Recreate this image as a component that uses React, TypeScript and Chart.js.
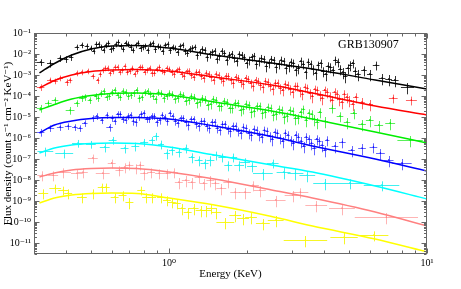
import { useEffect, useRef } from 'react';
import { Chart, registerables } from 'chart.js';

Chart.register(...registerables);

// [energy keV, flux, relative x half-width, relative y error]
type Pt = [number, number, number, number];

const xTickValues = [1, 10];
const xTickLabels = ['10⁰', '10¹'];
const yTickValues = [1e-1, 1e-2, 1e-3, 1e-4, 1e-5, 1e-6, 1e-7, 1e-8, 1e-9, 1e-10, 1e-11];
const yTickLabels = ['10⁻¹', '10⁻²', '10⁻³', '10⁻⁴', '10⁻⁵', '10⁻⁶', '10⁻⁷', '10⁻⁸', '10⁻⁹', '10⁻¹⁰', '10⁻¹¹'];

const modelEnergies = [0.315, 0.36, 0.42, 0.5, 0.6, 0.75, 1, 1.5, 2.5, 3.6, 6.3, 10];
const blackModel = [1.25e-3, 3.53e-3, 8.96e-3, 1.73e-2, 2.4e-2, 2.54e-2, 1.93e-2, 8.96e-3, 3.73e-3, 1.93e-3, 5.78e-4, 2.15e-4];
const redModel = [2.4e-4, 5.47e-4, 1.0e-3, 1.47e-3, 1.73e-3, 1.83e-3, 1.55e-3, 8.03e-4, 3.34e-4, 1.39e-4, 3.34e-5, 1.25e-5];
const greenModel = [2.15e-5, 3.94e-5, 7.2e-5, 1.06e-4, 1.32e-4, 1.39e-4, 1.12e-4, 5.18e-5, 1.93e-5, 8.03e-6, 1.93e-6, 5.78e-7];
const blueModel = [1.73e-6, 4.16e-6, 6.45e-6, 8.48e-6, 9.47e-6, 9.47e-6, 8.03e-6, 3.73e-6, 1.18e-6, 4.16e-7, 1.0e-7, 2.68e-8];
const cyanModel = [1.93e-7, 3.34e-7, 4.64e-7, 5.47e-7, 5.78e-7, 5.47e-7, 3.73e-7, 1.55e-7, 5.18e-8, 2.4e-8, 5.18e-9, 1.25e-9];
const pinkModel = [1.39e-8, 2.15e-8, 2.99e-8, 3.53e-8, 3.73e-8, 3.53e-8, 2.4e-8, 1.12e-8, 3.34e-9, 1.39e-9, 2.99e-10, 6.45e-11];
const yellowModel = [8.03e-10, 1.39e-9, 1.93e-9, 2.28e-9, 2.4e-9, 2.28e-9, 1.39e-9, 6.45e-10, 1.83e-10, 6.45e-11, 1.55e-11, 3.73e-12];

const blackPoints: Pt[] = [
  [0.318, 4.16e-3, 0.035, 0.35], [0.347, 3.73e-3, 0.03, 0.4], [0.379, 6.45e-3, 0.025, 0.35], [0.4, 5.78e-3, 0.02, 0.35],
  [0.418, 7.2e-3, 0.02, 0.35], [0.44, 2.15e-2, 0.02, 0.3], [0.46, 2.68e-2, 0.02, 0.3], [0.481, 2.4e-2, 0.02, 0.3],
  [0.5, 1.93e-2, 0.015, 0.3], [0.523, 2.99e-2, 0.015, 0.3], [0.546, 2.15e-2, 0.015, 0.3], [0.57, 2.68e-2, 0.015, 0.3],
  [0.596, 1.73e-2, 0.015, 0.35], [0.623, 2.99e-2, 0.015, 0.3], [0.651, 2.4e-2, 0.015, 0.3], [0.68, 3.34e-2, 0.015, 0.3],
  [0.711, 2.15e-2, 0.015, 0.35], [0.743, 2.68e-2, 0.015, 0.3], [0.776, 1.93e-2, 0.015, 0.35], [0.811, 2.4e-2, 0.015, 0.3],
  [0.848, 2.99e-2, 0.015, 0.3], [0.886, 1.73e-2, 0.015, 0.35], [0.926, 2.15e-2, 0.015, 0.3], [0.967, 2.68e-2, 0.015, 0.3],
  [1.011, 1.55e-2, 0.015, 0.35], [1.056, 1.93e-2, 0.015, 0.3], [1.104, 2.4e-2, 0.015, 0.3], [1.154, 1.39e-2, 0.015, 0.35],
  [1.205, 1.73e-2, 0.015, 0.35], [1.26, 2.15e-2, 0.015, 0.3], [1.316, 1.25e-2, 0.015, 0.35], [1.376, 1.55e-2, 0.015, 0.35],
  [1.438, 1.0e-2, 0.015, 0.4], [1.502, 1.39e-2, 0.015, 0.35], [1.57, 8.03e-3, 0.015, 0.4], [1.641, 1.12e-2, 0.015, 0.35],
  [1.714, 8.96e-3, 0.015, 0.4], [1.791, 6.45e-3, 0.015, 0.4], [1.872, 1.0e-2, 0.015, 0.35], [1.956, 7.2e-3, 0.015, 0.4],
  [2.044, 5.18e-3, 0.015, 0.45], [2.136, 8.03e-3, 0.015, 0.4], [2.232, 4.64e-3, 0.015, 0.45], [2.333, 5.78e-3, 0.015, 0.4],
  [2.438, 3.73e-3, 0.015, 0.45], [2.547, 5.18e-3, 0.015, 0.4], [2.662, 3.34e-3, 0.015, 0.45], [2.782, 4.64e-3, 0.015, 0.4],
  [2.907, 2.68e-3, 0.015, 0.5], [3.038, 3.73e-3, 0.015, 0.45], [3.174, 2.15e-3, 0.015, 0.5], [3.317, 3.34e-3, 0.015, 0.45],
  [3.467, 4.16e-3, 0.015, 0.45], [3.623, 1.93e-3, 0.015, 0.5], [3.786, 2.99e-3, 0.015, 0.45], [3.956, 1.55e-3, 0.02, 0.5],
  [4.134, 2.68e-3, 0.02, 0.5], [4.32, 1.73e-3, 0.02, 0.5], [4.514, 4.16e-3, 0.02, 0.45], [4.718, 1.39e-3, 0.02, 0.55],
  [4.93, 2.15e-3, 0.02, 0.5], [5.152, 3.73e-3, 0.02, 0.45], [5.4, 1.12e-3, 0.025, 0.55], [5.7, 1.73e-3, 0.025, 0.5],
  [6.0, 1.12e-3, 0.025, 0.55], [6.35, 2.99e-3, 0.03, 0.45], [6.7, 7.2e-4, 0.03, 0.55], [7.1, 6.45e-4, 0.03, 0.55],
  [7.5, 5.78e-4, 0.035, 0.55], [8.4, 2.68e-4, 0.06, 0.55],
  [0.511, 1.39e-2, 0.015, 0.3], [0.534, 2.99e-2, 0.015, 0.3], [0.558, 1.55e-2, 0.015, 0.3], [0.583, 3.34e-2, 0.015, 0.3],
  [0.609, 1.93e-2, 0.015, 0.3], [0.637, 3.73e-2, 0.015, 0.3], [0.665, 1.73e-2, 0.015, 0.3], [0.695, 2.99e-2, 0.015, 0.3],
  [0.727, 1.55e-2, 0.015, 0.3], [0.759, 3.34e-2, 0.015, 0.3], [0.793, 2.15e-2, 0.015, 0.3], [0.829, 1.55e-2, 0.015, 0.35],
  [0.867, 3.34e-2, 0.015, 0.3], [0.906, 2.4e-2, 0.015, 0.3], [0.946, 1.39e-2, 0.015, 0.35], [0.989, 2.99e-2, 0.015, 0.3],
  [1.033, 2.15e-2, 0.015, 0.3], [1.08, 1.25e-2, 0.015, 0.35], [1.129, 2.68e-2, 0.015, 0.3], [1.18, 1.12e-2, 0.015, 0.35],
  [1.232, 1.93e-2, 0.015, 0.35], [1.288, 8.96e-3, 0.015, 0.4], [1.346, 1.73e-2, 0.015, 0.35], [1.407, 7.2e-3, 0.015, 0.4],
  [1.47, 1.25e-2, 0.015, 0.35], [1.536, 5.78e-3, 0.015, 0.4], [1.605, 1.39e-2, 0.015, 0.35], [1.677, 5.18e-3, 0.015, 0.45],
  [1.752, 1.0e-2, 0.015, 0.4], [1.831, 4.64e-3, 0.015, 0.45], [1.914, 8.96e-3, 0.015, 0.4], [2.0, 3.73e-3, 0.015, 0.45],
  [2.09, 7.2e-3, 0.015, 0.4], [2.184, 3.34e-3, 0.015, 0.45], [2.282, 6.45e-3, 0.015, 0.4], [2.385, 2.68e-3, 0.015, 0.5],
  [2.492, 5.78e-3, 0.015, 0.4], [2.604, 2.4e-3, 0.015, 0.5], [2.721, 5.18e-3, 0.015, 0.45], [2.844, 2.15e-3, 0.015, 0.5],
  [2.972, 4.16e-3, 0.015, 0.45], [3.105, 1.73e-3, 0.015, 0.5], [3.245, 4.64e-3, 0.015, 0.45], [3.391, 1.39e-3, 0.015, 0.55],
  [3.544, 3.34e-3, 0.015, 0.45], [3.703, 1.25e-3, 0.015, 0.55], [3.87, 3.73e-3, 0.02, 0.45], [4.044, 1.12e-3, 0.02, 0.55],
  [4.226, 2.4e-3, 0.02, 0.5], [4.416, 5.18e-3, 0.02, 0.45], [4.615, 1.93e-3, 0.02, 0.5], [4.823, 8.96e-4, 0.02, 0.55],
  [5.04, 2.99e-3, 0.02, 0.5], [5.27, 1.55e-3, 0.02, 0.5],
];

const redPoints: Pt[] = [
  [0.318, 2.68e-4, 0.035, 0.35], [0.347, 5.78e-4, 0.03, 0.3], [0.362, 5.18e-4, 0.025, 0.3], [0.379, 7.2e-4, 0.025, 0.3],
  [0.403, 4.64e-4, 0.02, 0.35], [0.414, 5.78e-4, 0.02, 0.3], [0.44, 1.25e-3, 0.02, 0.3], [0.46, 1.39e-3, 0.02, 0.3],
  [0.485, 1.55e-3, 0.02, 0.3], [0.508, 8.96e-4, 0.02, 0.3], [0.53, 5.78e-4, 0.015, 0.35], [0.554, 1.73e-3, 0.015, 0.3],
  [0.579, 2.15e-3, 0.015, 0.3], [0.605, 1.55e-3, 0.015, 0.3], [0.632, 2.4e-3, 0.015, 0.3], [0.66, 1.73e-3, 0.015, 0.3],
  [0.69, 1.39e-3, 0.015, 0.3], [0.721, 2.15e-3, 0.015, 0.3], [0.753, 1.55e-3, 0.015, 0.3], [0.787, 2.4e-3, 0.015, 0.3],
  [0.823, 1.73e-3, 0.015, 0.3], [0.86, 1.25e-3, 0.015, 0.35], [0.898, 1.93e-3, 0.015, 0.3], [0.939, 1.55e-3, 0.015, 0.3],
  [0.981, 2.15e-3, 0.015, 0.3], [1.025, 1.39e-3, 0.015, 0.35], [1.071, 1.73e-3, 0.015, 0.3], [1.119, 1.12e-3, 0.015, 0.35],
  [1.17, 1.55e-3, 0.015, 0.3], [1.222, 1.0e-3, 0.015, 0.35], [1.277, 1.39e-3, 0.015, 0.35], [1.335, 8.96e-4, 0.015, 0.35],
  [1.395, 1.25e-3, 0.015, 0.35], [1.458, 8.03e-4, 0.015, 0.4], [1.523, 1.12e-3, 0.015, 0.35], [1.592, 6.45e-4, 0.015, 0.4],
  [1.663, 8.96e-4, 0.015, 0.4], [1.738, 5.78e-4, 0.015, 0.4], [1.816, 8.03e-4, 0.015, 0.4], [1.898, 4.64e-4, 0.015, 0.45],
  [1.983, 7.2e-4, 0.015, 0.4], [2.073, 4.16e-4, 0.015, 0.45], [2.166, 5.78e-4, 0.015, 0.4], [2.263, 3.34e-4, 0.015, 0.45],
  [2.365, 5.18e-4, 0.015, 0.4], [2.472, 2.99e-4, 0.015, 0.45], [2.583, 4.16e-4, 0.015, 0.45], [2.699, 2.4e-4, 0.015, 0.5],
  [2.821, 3.73e-4, 0.015, 0.45], [2.948, 2.15e-4, 0.015, 0.5], [3.08, 2.99e-4, 0.015, 0.45], [3.219, 1.73e-4, 0.015, 0.5],
  [3.364, 2.68e-4, 0.015, 0.45], [3.515, 1.39e-4, 0.015, 0.5], [3.673, 2.15e-4, 0.015, 0.45], [3.839, 1.12e-4, 0.02, 0.5],
  [4.012, 1.93e-4, 0.02, 0.45], [4.192, 1.0e-4, 0.02, 0.5], [4.381, 1.55e-4, 0.02, 0.5], [4.578, 7.2e-5, 0.02, 0.55],
  [4.784, 1.25e-4, 0.02, 0.5], [5.0, 6.45e-5, 0.025, 0.55], [5.3, 8.96e-5, 0.025, 0.5], [5.6, 5.18e-5, 0.025, 0.55],
  [6.0, 4.16e-5, 0.03, 0.55], [7.4, 8.03e-5, 0.04, 0.45], [8.7, 6.45e-5, 0.05, 0.45],
  [0.542, 1.12e-3, 0.015, 0.3], [0.566, 2.15e-3, 0.015, 0.3], [0.592, 1.25e-3, 0.015, 0.3], [0.618, 2.4e-3, 0.015, 0.3],
  [0.646, 1.39e-3, 0.015, 0.3], [0.675, 2.68e-3, 0.015, 0.3], [0.705, 1.55e-3, 0.015, 0.3], [0.737, 1.12e-3, 0.015, 0.3],
  [0.77, 2.4e-3, 0.015, 0.3], [0.805, 1.39e-3, 0.015, 0.3], [0.841, 2.15e-3, 0.015, 0.3], [0.879, 1.25e-3, 0.015, 0.3],
  [0.918, 2.4e-3, 0.015, 0.3], [0.96, 1.39e-3, 0.015, 0.3], [1.003, 1.93e-3, 0.015, 0.3], [1.048, 1.12e-3, 0.015, 0.35],
  [1.095, 1.93e-3, 0.015, 0.3], [1.144, 8.96e-4, 0.015, 0.35], [1.196, 1.55e-3, 0.015, 0.35], [1.249, 8.03e-4, 0.015, 0.35],
  [1.306, 1.39e-3, 0.015, 0.35], [1.364, 7.2e-4, 0.015, 0.4], [1.426, 1.12e-3, 0.015, 0.35], [1.49, 5.78e-4, 0.015, 0.4],
  [1.557, 1.0e-3, 0.015, 0.35], [1.627, 5.18e-4, 0.015, 0.45], [1.7, 8.96e-4, 0.015, 0.4], [1.777, 4.16e-4, 0.015, 0.45],
  [1.857, 7.2e-4, 0.015, 0.4], [1.94, 3.73e-4, 0.015, 0.45], [2.027, 6.45e-4, 0.015, 0.4], [2.119, 2.99e-4, 0.015, 0.45],
  [2.214, 5.18e-4, 0.015, 0.4], [2.314, 2.68e-4, 0.015, 0.5], [2.418, 4.64e-4, 0.015, 0.45], [2.527, 2.15e-4, 0.015, 0.5],
  [2.64, 4.16e-4, 0.015, 0.45], [2.759, 1.93e-4, 0.015, 0.5], [2.884, 3.34e-4, 0.015, 0.45], [3.013, 1.55e-4, 0.015, 0.5],
  [3.149, 2.99e-4, 0.015, 0.45], [3.291, 1.25e-4, 0.015, 0.5], [3.439, 2.4e-4, 0.015, 0.45], [3.594, 1.0e-4, 0.015, 0.55],
  [3.755, 1.93e-4, 0.02, 0.45], [3.924, 8.03e-5, 0.02, 0.55], [4.101, 1.55e-4, 0.02, 0.5], [4.286, 6.45e-5, 0.02, 0.55],
  [4.479, 1.25e-4, 0.02, 0.5], [4.68, 5.18e-5, 0.02, 0.55], [4.89, 8.96e-5, 0.02, 0.5], [5.15, 4.16e-5, 0.02, 0.55],
];

const greenPoints: Pt[] = [
  [0.318, 2.68e-5, 0.035, 0.4], [0.341, 4.64e-5, 0.03, 0.35], [0.362, 6.45e-5, 0.03, 0.35], [0.414, 2.15e-5, 0.04, 0.4],
  [0.44, 4.64e-5, 0.025, 0.35], [0.46, 8.03e-5, 0.025, 0.35], [0.472, 8.96e-5, 0.02, 0.35], [0.494, 6.45e-5, 0.02, 0.35],
  [0.52, 1.0e-4, 0.016, 0.35], [0.546, 1.39e-4, 0.016, 0.35], [0.573, 8.96e-5, 0.016, 0.35], [0.602, 1.55e-4, 0.016, 0.35],
  [0.632, 1.12e-4, 0.016, 0.35], [0.664, 1.73e-4, 0.016, 0.35], [0.697, 1.0e-4, 0.016, 0.35], [0.732, 1.39e-4, 0.016, 0.35],
  [0.768, 8.03e-5, 0.016, 0.4], [0.807, 1.55e-4, 0.016, 0.35], [0.847, 1.25e-4, 0.016, 0.35], [0.889, 7.2e-5, 0.016, 0.4],
  [0.934, 1.39e-4, 0.016, 0.35], [0.98, 1.0e-4, 0.016, 0.35], [1.029, 1.25e-4, 0.016, 0.35], [1.081, 8.03e-5, 0.016, 0.4],
  [1.135, 1.12e-4, 0.016, 0.35], [1.192, 6.45e-5, 0.016, 0.4], [1.251, 8.96e-5, 0.016, 0.4], [1.314, 5.18e-5, 0.016, 0.4],
  [1.38, 7.2e-5, 0.016, 0.4], [1.449, 4.16e-5, 0.016, 0.45], [1.521, 6.45e-5, 0.016, 0.4], [1.597, 3.34e-5, 0.016, 0.45],
  [1.677, 5.18e-5, 0.016, 0.4], [1.761, 2.68e-5, 0.016, 0.45], [1.849, 4.64e-5, 0.016, 0.4], [1.941, 2.4e-5, 0.016, 0.45],
  [2.038, 3.73e-5, 0.016, 0.45], [2.14, 1.93e-5, 0.016, 0.5], [2.247, 3.34e-5, 0.016, 0.45], [2.36, 1.73e-5, 0.016, 0.5],
  [2.478, 2.68e-5, 0.016, 0.45], [2.602, 1.39e-5, 0.016, 0.5], [2.732, 2.15e-5, 0.016, 0.45], [2.868, 1.12e-5, 0.016, 0.5],
  [3.012, 1.93e-5, 0.016, 0.45], [3.162, 8.96e-6, 0.016, 0.5], [3.32, 2.4e-5, 0.016, 0.45], [3.486, 1.55e-5, 0.016, 0.5],
  [3.66, 8.03e-6, 0.016, 0.55], [3.843, 1.73e-5, 0.02, 0.5], [4.035, 6.45e-6, 0.025, 0.55], [4.3, 2.68e-5, 0.03, 0.45],
  [4.6, 1.12e-5, 0.03, 0.5], [4.9, 5.78e-6, 0.03, 0.55], [5.2, 1.55e-5, 0.03, 0.5], [5.6, 4.64e-6, 0.035, 0.55],
  [6.0, 7.2e-6, 0.035, 0.55], [6.5, 4.16e-6, 0.04, 0.55], [7.2, 5.18e-6, 0.045, 0.55], [8.6, 8.03e-7, 0.12, 0.55],
  [0.533, 8.03e-5, 0.016, 0.35], [0.56, 1.73e-4, 0.016, 0.35], [0.587, 1.0e-4, 0.016, 0.35], [0.617, 1.93e-4, 0.016, 0.35],
  [0.648, 8.96e-5, 0.016, 0.35], [0.68, 1.55e-4, 0.016, 0.35], [0.714, 1.12e-4, 0.016, 0.35], [0.75, 1.93e-4, 0.016, 0.35],
  [0.787, 8.96e-5, 0.016, 0.35], [0.827, 1.73e-4, 0.016, 0.35], [0.868, 1.0e-4, 0.016, 0.35], [0.911, 1.55e-4, 0.016, 0.35],
  [0.957, 8.03e-5, 0.016, 0.4], [1.004, 1.39e-4, 0.016, 0.35], [1.055, 7.2e-5, 0.016, 0.4], [1.108, 1.25e-4, 0.016, 0.35],
  [1.163, 5.78e-5, 0.016, 0.4], [1.221, 1.0e-4, 0.016, 0.35], [1.282, 4.64e-5, 0.016, 0.45], [1.346, 8.03e-5, 0.016, 0.4],
  [1.414, 3.73e-5, 0.016, 0.45], [1.484, 7.2e-5, 0.016, 0.4], [1.559, 3.34e-5, 0.016, 0.45], [1.636, 5.78e-5, 0.016, 0.4],
  [1.718, 2.68e-5, 0.016, 0.45], [1.804, 4.64e-5, 0.016, 0.45], [1.894, 2.15e-5, 0.016, 0.5], [1.989, 4.16e-5, 0.016, 0.45],
  [2.088, 1.73e-5, 0.016, 0.5], [2.193, 3.34e-5, 0.016, 0.45], [2.303, 1.55e-5, 0.016, 0.5], [2.418, 2.99e-5, 0.016, 0.45],
  [2.539, 1.25e-5, 0.016, 0.5], [2.666, 2.4e-5, 0.016, 0.45], [2.799, 1.0e-5, 0.016, 0.55], [2.939, 2.15e-5, 0.016, 0.45],
  [3.086, 8.96e-6, 0.016, 0.55], [3.24, 1.73e-5, 0.016, 0.5], [3.402, 7.2e-6, 0.016, 0.55], [3.572, 1.39e-5, 0.016, 0.5],
  [3.75, 5.78e-6, 0.02, 0.55],
];

const bluePoints: Pt[] = [
  [0.318, 1.93e-6, 0.035, 0.4], [0.347, 2.99e-6, 0.035, 0.35], [0.379, 3.34e-6, 0.03, 0.35], [0.407, 3.73e-6, 0.03, 0.35],
  [0.432, 3.34e-6, 0.025, 0.35], [0.452, 2.99e-6, 0.025, 0.35], [0.472, 5.18e-6, 0.025, 0.35], [0.507, 8.96e-6, 0.02, 0.35],
  [0.525, 1.12e-5, 0.02, 0.35], [0.55, 7.2e-6, 0.016, 0.35], [0.576, 1.25e-5, 0.016, 0.35], [0.589, 3.34e-6, 0.03, 0.4],
  [0.604, 8.96e-6, 0.016, 0.35], [0.633, 1.39e-5, 0.016, 0.35], [0.663, 8.03e-6, 0.016, 0.35], [0.695, 1.12e-5, 0.016, 0.35],
  [0.728, 6.45e-6, 0.016, 0.4], [0.763, 1.0e-5, 0.016, 0.35], [0.8, 1.55e-5, 0.016, 0.35], [0.838, 8.03e-6, 0.016, 0.35],
  [0.878, 1.12e-5, 0.016, 0.35], [0.92, 7.2e-6, 0.016, 0.4], [0.964, 1.0e-5, 0.016, 0.35], [1.01, 1.55e-5, 0.016, 0.35],
  [1.058, 6.45e-6, 0.016, 0.4], [1.109, 8.96e-6, 0.016, 0.35], [1.162, 5.78e-6, 0.016, 0.4], [1.218, 8.03e-6, 0.016, 0.35],
  [1.276, 4.64e-6, 0.016, 0.4], [1.337, 6.45e-6, 0.016, 0.4], [1.401, 3.73e-6, 0.016, 0.45], [1.468, 5.78e-6, 0.016, 0.4],
  [1.538, 2.99e-6, 0.016, 0.45], [1.612, 4.64e-6, 0.016, 0.4], [1.689, 2.68e-6, 0.016, 0.45], [1.77, 3.73e-6, 0.016, 0.45],
  [1.855, 2.15e-6, 0.016, 0.45], [1.943, 3.34e-6, 0.016, 0.45], [2.036, 1.73e-6, 0.016, 0.5], [2.134, 2.68e-6, 0.016, 0.45],
  [2.236, 1.39e-6, 0.016, 0.5], [2.343, 2.4e-6, 0.016, 0.45], [2.455, 1.25e-6, 0.016, 0.5], [2.572, 1.93e-6, 0.016, 0.45],
  [2.695, 1.0e-6, 0.016, 0.5], [2.824, 1.73e-6, 0.016, 0.45], [2.96, 8.03e-7, 0.016, 0.5], [3.101, 1.39e-6, 0.016, 0.5],
  [3.25, 7.2e-7, 0.02, 0.55], [3.405, 1.12e-6, 0.02, 0.5], [3.568, 5.78e-7, 0.02, 0.55], [3.739, 8.96e-7, 0.02, 0.5],
  [3.918, 4.64e-7, 0.02, 0.55], [4.105, 8.03e-7, 0.02, 0.5], [4.4, 4.16e-7, 0.03, 0.55], [4.7, 6.45e-7, 0.03, 0.5],
  [5.1, 2.68e-7, 0.03, 0.55], [5.6, 3.34e-7, 0.035, 0.55], [6.2, 3.73e-7, 0.035, 0.5], [6.6, 1.93e-7, 0.04, 0.55],
  [7.1, 8.96e-8, 0.045, 0.55], [8.0, 6.45e-8, 0.09, 0.55],
  [0.618, 6.45e-6, 0.016, 0.35], [0.648, 1.39e-5, 0.016, 0.35], [0.679, 7.2e-6, 0.016, 0.35], [0.711, 1.25e-5, 0.016, 0.35],
  [0.745, 5.78e-6, 0.016, 0.4], [0.781, 1.39e-5, 0.016, 0.35], [0.819, 8.03e-6, 0.016, 0.35], [0.858, 1.12e-5, 0.016, 0.35],
  [0.899, 5.78e-6, 0.016, 0.4], [0.942, 1.25e-5, 0.016, 0.35], [0.987, 6.45e-6, 0.016, 0.4], [1.034, 1.12e-5, 0.016, 0.35],
  [1.083, 5.18e-6, 0.016, 0.4], [1.135, 8.96e-6, 0.016, 0.35], [1.19, 4.16e-6, 0.016, 0.45], [1.247, 8.03e-6, 0.016, 0.35],
  [1.306, 3.73e-6, 0.016, 0.45], [1.369, 6.45e-6, 0.016, 0.4], [1.434, 2.99e-6, 0.016, 0.45], [1.503, 5.78e-6, 0.016, 0.4],
  [1.575, 2.4e-6, 0.016, 0.45], [1.65, 4.64e-6, 0.016, 0.4], [1.729, 2.15e-6, 0.016, 0.5], [1.812, 3.73e-6, 0.016, 0.45],
  [1.899, 1.73e-6, 0.016, 0.5], [1.989, 2.99e-6, 0.016, 0.45], [2.085, 1.39e-6, 0.016, 0.5], [2.185, 2.4e-6, 0.016, 0.45],
  [2.289, 1.12e-6, 0.016, 0.5], [2.399, 2.15e-6, 0.016, 0.45], [2.513, 8.96e-7, 0.016, 0.55], [2.634, 1.73e-6, 0.016, 0.45],
  [2.759, 7.2e-7, 0.016, 0.55], [2.892, 1.39e-6, 0.016, 0.5], [3.03, 5.78e-7, 0.016, 0.55], [3.175, 1.12e-6, 0.016, 0.5],
  [3.327, 4.16e-7, 0.02, 0.55], [3.486, 8.96e-7, 0.02, 0.5], [3.653, 3.34e-7, 0.02, 0.55], [3.828, 7.2e-7, 0.02, 0.5],
  [4.01, 2.68e-7, 0.02, 0.55],
];

const cyanPoints: Pt[] = [
  [0.332, 2.4e-7, 0.073, 0.45], [0.393, 1.93e-7, 0.083, 0.45], [0.444, 5.78e-7, 0.054, 0.4], [0.498, 5.18e-7, 0.045, 0.4],
  [0.564, 3.73e-7, 0.045, 0.45], [0.605, 8.03e-7, 0.036, 0.4], [0.673, 3.34e-7, 0.036, 0.45], [0.741, 4.16e-7, 0.036, 0.45],
  [0.802, 6.45e-7, 0.036, 0.4], [0.861, 8.03e-7, 0.027, 0.4], [0.892, 1.25e-6, 0.027, 0.4], [0.932, 5.18e-7, 0.027, 0.45],
  [0.982, 1.93e-7, 0.027, 0.5], [1.027, 2.68e-7, 0.027, 0.45], [1.092, 2.15e-7, 0.027, 0.45], [1.162, 3.34e-7, 0.027, 0.45],
  [1.225, 1.25e-7, 0.027, 0.5], [1.303, 8.96e-8, 0.036, 0.5], [1.374, 6.45e-8, 0.036, 0.5], [1.448, 8.96e-8, 0.036, 0.5],
  [1.527, 1.55e-7, 0.036, 0.45], [1.61, 1.25e-7, 0.036, 0.45], [1.698, 5.18e-8, 0.036, 0.5], [1.775, 1.25e-7, 0.036, 0.45],
  [1.871, 5.18e-8, 0.045, 0.5], [1.972, 7.2e-8, 0.045, 0.5], [2.099, 4.64e-8, 0.045, 0.5], [2.312, 2.15e-8, 0.092, 0.55],
  [2.524, 6.45e-8, 0.054, 0.45], [2.781, 2.4e-8, 0.064, 0.55], [3.093, 2.15e-8, 0.073, 0.55], [3.437, 1.73e-8, 0.073, 0.55],
  [4.029, 7.2e-9, 0.112, 0.55], [5.023, 7.2e-9, 0.122, 0.5], [6.665, 5.78e-9, 0.172, 0.5],
];

const pinkPoints: Pt[] = [
  [0.323, 1.73e-8, 0.045, 0.5], [0.356, 1.73e-8, 0.045, 0.5], [0.389, 2.4e-8, 0.073, 0.5], [0.44, 2.15e-8, 0.054, 0.5],
  [0.464, 2.4e-8, 0.045, 0.5], [0.507, 1.12e-7, 0.045, 0.45], [0.554, 2.15e-8, 0.064, 0.5], [0.6, 6.45e-8, 0.036, 0.45],
  [0.643, 2.99e-8, 0.036, 0.5], [0.673, 4.16e-8, 0.036, 0.5], [0.703, 5.18e-8, 0.036, 0.45], [0.748, 3.73e-8, 0.036, 0.5],
  [0.774, 5.18e-8, 0.036, 0.45], [0.802, 2.15e-8, 0.036, 0.55], [0.853, 2.4e-8, 0.036, 0.5], [0.916, 2.15e-8, 0.036, 0.5],
  [0.982, 2.15e-8, 0.036, 0.5], [1.045, 2.4e-8, 0.036, 0.5], [1.092, 8.03e-9, 0.036, 0.55], [1.162, 1.0e-8, 0.036, 0.55],
  [1.225, 8.03e-9, 0.036, 0.55], [1.303, 1.39e-8, 0.036, 0.5], [1.362, 7.2e-9, 0.036, 0.55], [1.448, 1.0e-8, 0.036, 0.55],
  [1.514, 7.2e-9, 0.036, 0.55], [1.596, 4.16e-9, 0.045, 0.55], [1.698, 8.03e-9, 0.045, 0.5], [1.806, 2.68e-9, 0.045, 0.55],
  [1.972, 2.68e-9, 0.054, 0.55], [2.117, 5.78e-9, 0.054, 0.5], [2.252, 3.34e-9, 0.054, 0.55], [2.593, 1.12e-9, 0.092, 0.55],
  [3.013, 1.93e-9, 0.073, 0.55], [3.233, 2.68e-9, 0.073, 0.5], [3.722, 6.45e-10, 0.102, 0.55], [4.683, 4.64e-10, 0.122, 0.55],
  [6.96, 1.73e-10, 0.326, 0.55],
];

const yellowPoints: Pt[] = [
  [0.326, 2.4e-9, 0.045, 0.5], [0.3625, 4.16e-9, 0.054, 0.45], [0.389, 3.34e-9, 0.045, 0.45], [0.407, 2.4e-9, 0.036, 0.5],
  [0.46, 1.55e-9, 0.045, 0.5], [0.507, 2.4e-9, 0.045, 0.5], [0.549, 4.64e-9, 0.036, 0.45], [0.569, 4.64e-9, 0.036, 0.45],
  [0.616, 1.55e-9, 0.036, 0.5], [0.661, 1.93e-9, 0.036, 0.5], [0.703, 8.96e-10, 0.036, 0.55], [0.781, 3.34e-9, 0.036, 0.45],
  [0.816, 1.55e-9, 0.036, 0.5], [0.861, 1.55e-9, 0.036, 0.5], [0.932, 1.55e-9, 0.036, 0.5], [0.982, 1.12e-9, 0.036, 0.5],
  [1.027, 8.96e-10, 0.036, 0.5], [1.073, 8.03e-10, 0.036, 0.5], [1.121, 4.64e-10, 0.036, 0.55], [1.182, 2.99e-10, 0.036, 0.55],
  [1.247, 4.64e-10, 0.045, 0.55], [1.326, 3.73e-10, 0.045, 0.55], [1.398, 3.73e-10, 0.045, 0.55], [1.461, 4.64e-10, 0.045, 0.5],
  [1.527, 2.99e-10, 0.045, 0.55], [1.654, 1.0e-10, 0.083, 0.55], [1.806, 2.15e-10, 0.054, 0.55], [1.938, 1.55e-10, 0.054, 0.55],
  [2.08, 1.73e-10, 0.054, 0.55], [2.312, 8.96e-11, 0.064, 0.55], [2.593, 1.25e-10, 0.073, 0.55], [3.38, 1.39e-11, 0.214, 0.55],
  [4.77, 1.93e-11, 0.13, 0.55], [6.21, 2.4e-11, 0.141, 0.5],
];

const seriesList = [
  { points: blackPoints, model: blackModel, line: '#000000', bar: 'rgba(0,0,0,0.8)' },
  { points: redPoints, model: redModel, line: '#ff0000', bar: 'rgba(255,0,0,0.6)' },
  { points: greenPoints, model: greenModel, line: '#00ee00', bar: 'rgba(0,230,0,0.65)' },
  { points: bluePoints, model: blueModel, line: '#0000ff', bar: 'rgba(0,0,255,0.6)' },
  { points: cyanPoints, model: cyanModel, line: '#00ffff', bar: 'rgba(0,235,235,0.75)' },
  { points: pinkPoints, model: pinkModel, line: '#ff8080', bar: 'rgba(255,140,140,0.65)' },
  { points: yellowPoints, model: yellowModel, line: '#ffff00', bar: 'rgba(245,245,0,0.85)' },
];

const SERIF = '"Liberation Serif", "DejaVu Serif", serif';

const errorBarPlugin = {
  id: 'errorBars',
  beforeDatasetsDraw(chart: any) {
    const { ctx, chartArea: a, scales } = chart;
    const xs = scales.x;
    const ys = scales.y;
    ctx.save();
    ctx.beginPath();
    ctx.rect(a.left, a.top, a.right - a.left, a.bottom - a.top);
    ctx.clip();
    ctx.lineWidth = 1;
    for (const s of seriesList) {
      ctx.strokeStyle = s.bar;
      ctx.beginPath();
      for (const [e, f, ex, ey] of s.points) {
        const px = Math.round(xs.getPixelForValue(e)) + 0.5;
        const py = Math.round(ys.getPixelForValue(f)) + 0.5;
        ctx.moveTo(xs.getPixelForValue(e / (1 + ex)), py);
        ctx.lineTo(xs.getPixelForValue(e * (1 + ex)), py);
        ctx.moveTo(px, ys.getPixelForValue(f * (1 + ey)));
        ctx.lineTo(px, ys.getPixelForValue(f * (1 - ey)));
      }
      ctx.stroke();
    }
    ctx.restore();
  },
};

const framePlugin = {
  id: 'frame',
  afterDraw(chart: any) {
    const { ctx, chartArea: a, scales } = chart;
    const xs = scales.x;
    const ys = scales.y;
    const L = Math.round(a.left) + 0.5;
    const R = Math.round(a.right) - 0.5;
    const T = Math.round(a.top) + 0.5;
    const B = Math.round(a.bottom) - 0.5;
    ctx.save();
    ctx.strokeStyle = '#666666';
    ctx.lineWidth = 1;
    ctx.strokeRect(L, T, R - L, B - T);
    ctx.beginPath();
    for (let d = -1; d <= 1; d++) {
      for (let m = 1; m <= 9; m++) {
        const v = m * Math.pow(10, d);
        if (v < xs.min || v > xs.max) continue;
        const px = Math.round(xs.getPixelForValue(v)) + 0.5;
        const len = m === 1 ? 5 : 3;
        ctx.moveTo(px, B);
        ctx.lineTo(px, B - len);
        ctx.moveTo(px, T);
        ctx.lineTo(px, T + len);
      }
    }
    for (let d = -12; d <= -1; d++) {
      for (let m = 1; m <= 9; m++) {
        const v = m * Math.pow(10, d);
        if (v < ys.min || v > ys.max * 1.0001) continue;
        const py = Math.round(ys.getPixelForValue(v)) + 0.5;
        const len = m === 1 ? 5 : 2.5;
        ctx.moveTo(L, py);
        ctx.lineTo(L + len, py);
        ctx.moveTo(R, py);
        ctx.lineTo(R - len, py);
      }
    }
    ctx.stroke();
    ctx.fillStyle = '#000000';
    ctx.font = `12px ${SERIF}`;
    ctx.textBaseline = 'middle';
    ctx.textAlign = 'left';
    ctx.fillText('GRB130907', a.right - 89, a.top + 12);
    ctx.restore();
  },
};

export default function App() {
  const canvasRef = useRef<HTMLCanvasElement | null>(null);

  useEffect(() => {
    const canvas = canvasRef.current;
    if (!canvas) return;
    const datasets: any[] = [];
    seriesList.forEach((s) => {
      datasets.push({
        type: 'line',
        data: modelEnergies.map((e, i) => ({ x: e, y: s.model[i] })),
        borderColor: s.line,
        borderWidth: 1.5,
        pointRadius: 0,
        cubicInterpolationMode: 'monotone',
        fill: false,
        order: 1,
      });
      datasets.push({
        type: 'scatter',
        data: s.points.map((p) => ({ x: p[0], y: p[1] })),
        backgroundColor: s.line,
        borderWidth: 0,
        pointRadius: 0.9,
        pointStyle: 'rect',
        order: 2,
      });
    });

    const chart = new Chart(canvas, {
      type: 'scatter',
      data: { datasets },
      plugins: [errorBarPlugin, framePlugin],
      options: {
        responsive: false,
        animation: false,
        events: [],
        layout: { padding: { left: 0, top: 33, right: 34, bottom: 0 } },
        plugins: { legend: { display: false }, tooltip: { enabled: false } },
        scales: {
          x: {
            type: 'logarithmic',
            min: 0.315,
            max: 10,
            grid: { display: false, drawTicks: false },
            border: { display: false },
            afterBuildTicks: (scale: any) => {
              scale.ticks = xTickValues.map((v) => ({ value: v }));
            },
            afterFit: (scale: any) => {
              scale.height = 35;
            },
            ticks: {
              autoSkip: false,
              maxRotation: 0,
              padding: 3,
              color: '#000000',
              font: { family: SERIF, size: 10 },
              callback: (_v: any, i: number) => xTickLabels[i],
            },
            title: {
              display: true,
              text: 'Energy (KeV)',
              color: '#000000',
              font: { family: SERIF, size: 11 },
              padding: { top: 0, bottom: 8 },
            },
          },
          y: {
            type: 'logarithmic',
            min: 3e-12,
            max: 1e-1,
            grid: { display: false, drawTicks: false },
            border: { display: false },
            afterBuildTicks: (scale: any) => {
              scale.ticks = yTickValues.map((v) => ({ value: v }));
            },
            afterFit: (scale: any) => {
              scale.width = 34;
            },
            ticks: {
              autoSkip: false,
              padding: 3,
              color: '#000000',
              font: { family: SERIF, size: 10 },
              callback: (_v: any, i: number) => yTickLabels[i],
            },
            title: {
              display: true,
              text: 'Flux density (count s⁻¹ cm⁻² KeV⁻¹)',
              color: '#000000',
              font: { family: SERIF, size: 11 },
              padding: { top: 2, bottom: 0 },
            },
          },
        },
      },
    } as any);
    return () => chart.destroy();
  }, []);

  return (
    <div style={{ position: 'fixed', left: 0, top: 0, width: 461, height: 289, background: '#ffffff' }}>
      <canvas ref={canvasRef} width={461} height={289} style={{ width: 461, height: 289 }} />
    </div>
  );
}
